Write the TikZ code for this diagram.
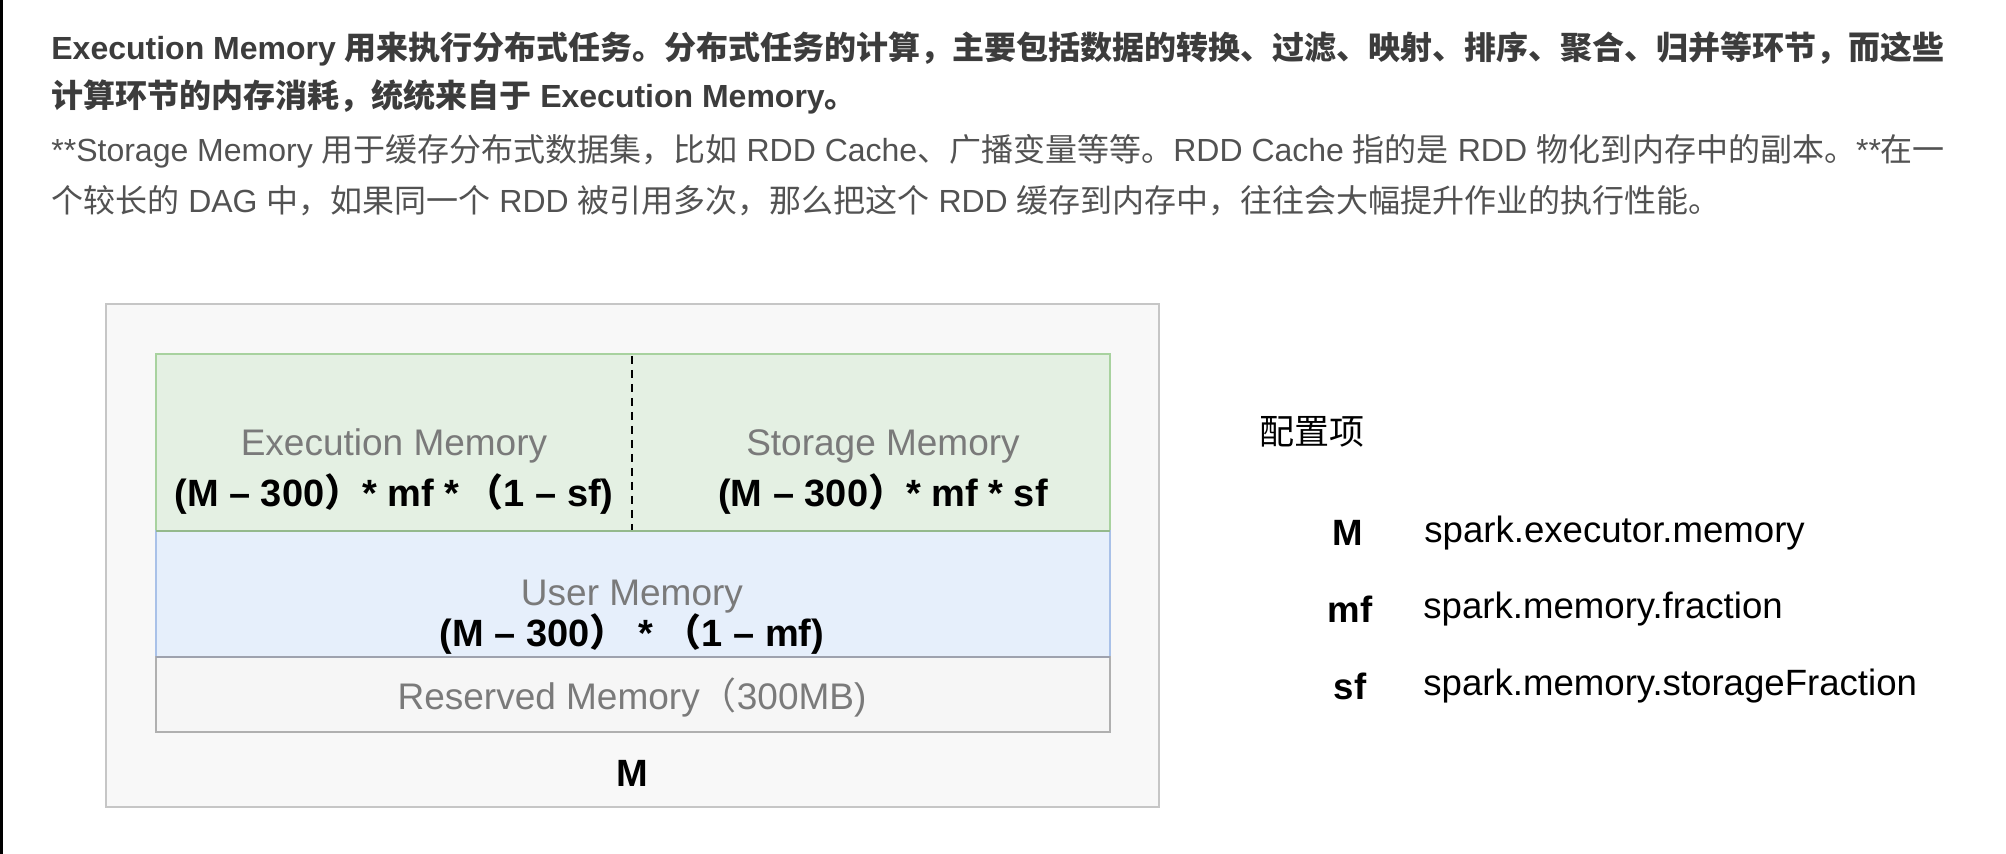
\documentclass[tikz,border=0pt]{standalone}
\usepackage{fontspec}
\setmainfont{Liberation Sans}
\newfontfamily\cjk{Noto Sans CJK SC}
\usetikzlibrary{positioning}

\definecolor{txtdark}{HTML}{3C3C3C}
\definecolor{txtgray}{HTML}{525252}
\definecolor{boxline}{HTML}{C6C6C6}
\definecolor{boxfill}{HTML}{F8F8F8}
\definecolor{execfill}{HTML}{E4F0E3}
\definecolor{execline}{HTML}{A8D29F}
\definecolor{userfill}{HTML}{E6EFFB}
\definecolor{userline}{HTML}{A9C1E8}
\definecolor{userbot}{HTML}{9EA2AE}
\definecolor{resvfill}{HTML}{F6F6F6}
\definecolor{resvline}{HTML}{B0B0B0}
\definecolor{labgray}{HTML}{7A7A7A}

\tikzset{
  para/.style={anchor=base west,inner sep=0,font=\fontsize{16}{20}\selectfont},
  memlabel/.style={inner sep=0,text=labgray,font=\fontsize{18.5}{22}\selectfont},
  formula/.style={inner sep=0,font=\fontsize{19}{22}\selectfont\bfseries},
  confkey/.style={inner sep=0,font=\fontsize{18.3}{22}\selectfont\bfseries},
  confval/.style={anchor=west,inner sep=0,font=\fontsize{18.3}{22}\selectfont}
}

\begin{document}
\begin{tikzpicture}[x=0.5pt,y=-0.5pt]
\useasboundingbox[fill=white] (0,0) rectangle (2006,854);
\fill[black] (0,0) rectangle (3,854);

% text above the picture
\node[para,text=txtdark] (l1) at (51,60) {\bfseries Execution Memory {\cjk 用来执行分布式任务。分布式任务的计算，主要包括数据的转换、过滤、映射、排序、聚合、归并等环节，而这些}};
\node[para,text=txtdark] (l2) at (51,108) {\bfseries{\cjk 计算环节的内存消耗，统统来自于} Execution Memory{\cjk 。}};
\node[para,text=txtgray] (l3) at (51,162) {**Storage Memory {\cjk 用于缓存分布式数据集，比如} RDD Cache{\cjk 、广播变量等等。}RDD Cache {\cjk 指的是} RDD {\cjk 物化到内存中的副本。}**{\cjk 在一}};
\node[para,text=txtgray] (l4) at (51,213) {{\cjk 个较长的} DAG {\cjk 中，如果同一个} RDD {\cjk 被引用多次，那么把这个} RDD {\cjk 缓存到内存中，往往会大幅提升作业的执行性能。}};

% memory layout
\draw[boxline,fill=boxfill,line width=1.3pt] (106,304) rectangle (1159,807);
\draw[execline,fill=execfill,line width=1pt] (156,354) rectangle (1110,531);
\draw[userline,fill=userfill,line width=1pt] (156,531) rectangle (1110,657);
\draw[resvline,fill=resvfill,line width=1pt] (156,657) rectangle (1110,732);
\draw[userbot,line width=1.2pt] (156,657) -- (1110,657);
\draw[execline!80!black!60!execline,line width=1.2pt] (156,531) -- (1110,531);
\coordinate (cutT) at (632,356);
\coordinate (cutB) at (632,530);
\draw[black,line width=1pt,dash pattern=on 4pt off 3pt] (cutT) -- (cutB);

\node[memlabel] (execT) at (394,446) {Execution Memory};
\node[formula] (execF) at (394,494) {(M – 300{\cjk ）}* mf *\,{\cjk （}1 – sf)};
\node[memlabel] (storT) at (883,446) {Storage Memory};
\node[formula] (storF) at (883,494) {(M – 300{\cjk ）}* mf * sf};
\node[memlabel] (userT) at (632,597) {User Memory};
\node[formula] (userF) at (632,634) {(M – 300{\cjk ）} * {\cjk （}1 – mf)};
\node[memlabel] (resvT) at (632,698) {Reserved Memory{\cjk （}300MB)};
\node[formula] (total) at (632,773) {M};

% config items
\node[anchor=west,inner sep=0,font=\fontsize{17.5}{20}\cjk] (conf) at (1259,432) {配置项};
\node[confkey] (keyM) at (1348,533) {M};
\node[confkey] (keyMf) at (1350,609) {mf};
\node[confkey] (keySf) at (1350,686) {sf};
\node[confval] (valM) at (1424,533) {spark.executor.memory};
\node[confval] (valMf) at (1423,609) {spark.memory.fraction};
\node[confval] (valSf) at (1423,686) {spark.memory.storageFraction};
\end{tikzpicture}
\end{document}
